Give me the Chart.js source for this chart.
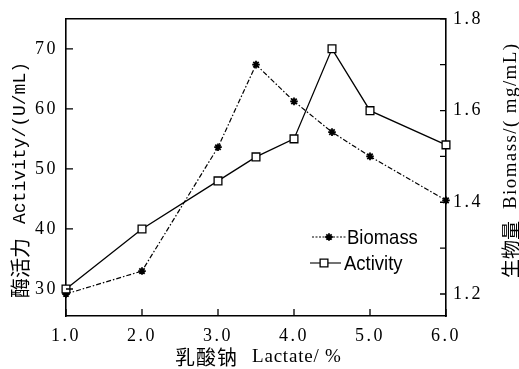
<!DOCTYPE html>
<html>
<head>
<meta charset="utf-8">
<script src="https://cdn.jsdelivr.net/npm/chart.js@4"></script>
<style>
  html, body { margin: 0; padding: 0; background: #fff; }
</style>
</head>
<body>
<canvas id="grafica" width="519" height="369"></canvas>
<script>
// Datos
const lactato = [1.0, 2.0, 3.0, 3.5, 4.0, 4.5, 5.0, 6.0];
const actividad = [30, 40, 48, 52, 55, 70, 59.7, 54];
const biomasa = [1.2, 1.25, 1.52, 1.70, 1.62, 1.553, 1.50, 1.404];
const ticksX = [1, 2, 3, 4, 5, 6];
const ticksIzq = [30, 40, 50, 60, 70];
const ticksDer = [1.2, 1.4, 1.6, 1.8];
const ticksDerMenores = [1.3, 1.5, 1.7];

const negro = "#000";
const fuenteTicks = { family: '"Liberation Serif", serif', size: 18 };

function escribir(ctx, partes, x0, y0, ang) {
  ctx.save();
  ctx.translate(x0, y0);
  ctx.rotate(ang);
  ctx.fillStyle = negro;
  ctx.textBaseline = "middle";
  ctx.textAlign = "left";
  let x = 0;
  for (const p of partes) {
    ctx.font = p.font;
    ctx.letterSpacing = p.ls || "0px";
    x += p.gap || 0;
    ctx.fillText(p.t, x, 0);
    x += ctx.measureText(p.t).width;
  }
  ctx.restore();
}

const marco = {
  id: "marco",
  beforeDraw(chart) {
    chart.ctx.letterSpacing = "2.5px";
  },
  afterDraw(chart) {
    const ctx = chart.ctx;
    const a = chart.chartArea;
    const sx = chart.scales.x, sy = chart.scales.y, sy1 = chart.scales.y1;
    ctx.save();
    ctx.letterSpacing = "0px";
    ctx.strokeStyle = negro;
    ctx.lineWidth = 1.6;
    ctx.beginPath();
    ctx.moveTo(a.left, a.top);
    ctx.lineTo(a.right, a.top);
    ctx.stroke();
    ctx.lineWidth = 1.3;
    ctx.beginPath();
    ticksX.forEach(v => {
      const px = sx.getPixelForValue(v);
      ctx.moveTo(px, a.bottom);
      ctx.lineTo(px, a.bottom - 7);
    });
    ticksIzq.forEach(v => {
      const py = sy.getPixelForValue(v);
      ctx.moveTo(a.left, py);
      ctx.lineTo(a.left + 7, py);
    });
    ticksDer.concat(ticksDerMenores).forEach(v => {
      const py = sy1.getPixelForValue(v);
      ctx.moveTo(a.right, py);
      ctx.lineTo(a.right - 6, py);
    });
    ctx.stroke();

    // leyenda
    const ds = chart.data.datasets;
    const filas = [
      { d: ds[1], y: 237, x1: 312, x2: 346, xm: 329, xt: 347, dash: [2, 1.5] },
      { d: ds[0], y: 263, x1: 310, x2: 341, xm: 324, xt: 344, dash: [] }
    ];
    filas.forEach(f => {
      ctx.save();
      ctx.lineWidth = 1.1;
      ctx.setLineDash(f.dash);
      ctx.beginPath();
      ctx.moveTo(f.x1, f.y);
      ctx.lineTo(f.x2, f.y);
      ctx.stroke();
      ctx.setLineDash([]);
      ctx.fillStyle = "#fff";
      ctx.strokeStyle = negro;
      ctx.lineWidth = f.d.pointBorderWidth;
      Chart.helpers.drawPoint(ctx, {
        pointStyle: f.d.pointStyle,
        radius: f.d.pointRadius,
        borderWidth: f.d.pointBorderWidth,
        rotation: 0
      }, f.xm, f.y);
      ctx.translate(f.xt, f.y);
      ctx.scale(0.88, 1);
      ctx.fillStyle = negro;
      ctx.font = '21px "Liberation Sans", Arial, sans-serif';
      ctx.textBaseline = "middle";
      ctx.textAlign = "left";
      ctx.fillText(f.d.label, 0, 1);
      ctx.restore();
    });
    ctx.restore();

    const cjk = '"Noto Sans CJK SC", sans-serif';
    escribir(ctx, [
      { t: "酶活力", font: "20px " + cjk },
      { t: "Activity/(U/mL)", font: '18px "Liberation Mono", monospace', gap: 14 }
    ], 20, 298, -Math.PI / 2);
    escribir(ctx, [
      { t: "生物量", font: "19px " + cjk },
      { t: "Biomass/( mg/mL)", font: '19px "Liberation Serif", serif', ls: "1.4px", gap: 12 }
    ], 511, 278, -Math.PI / 2);
    escribir(ctx, [
      { t: "乳酸钠", font: "20px " + cjk, ls: "1px" },
      { t: "Lactate/ %", font: '19px "Liberation Serif", serif', ls: "0.8px", gap: 14 }
    ], 175, 357, 0);
  }
};

const ctx = document.getElementById("grafica").getContext("2d");
const grafica = new Chart(ctx, {
  type: "line",
  data: {
    datasets: [
      {
        label: "Activity",
        data: lactato.map((x, i) => ({ x: x, y: actividad[i] })),
        yAxisID: "y",
        borderColor: negro,
        borderWidth: 1.3,
        pointStyle: "rect",
        pointRadius: 5.5,
        pointBackgroundColor: "#fff",
        pointBorderColor: negro,
        pointBorderWidth: 1.3,
        clip: false,
        tension: 0
      },
      {
        label: "Biomass",
        data: lactato.map((x, i) => ({ x: x, y: biomasa[i] })),
        yAxisID: "y1",
        borderColor: negro,
        borderWidth: 1.2,
        borderDash: [5, 2, 1.5, 2],
        pointStyle: "star",
        pointRadius: 3.8,
        pointBorderColor: negro,
        pointBorderWidth: 1.8,
        clip: false,
        tension: 0
      }
    ]
  },
  options: {
    responsive: false,
    animation: false,
    layout: { padding: { top: 16, left: 0, right: 0, bottom: 0 } },
    plugins: { legend: { display: false }, tooltip: { enabled: false } },
    scales: {
      x: {
        type: "linear",
        min: 1,
        max: 6,
        afterBuildTicks: s => { s.ticks = ticksX.map(v => ({ value: v })); },
        afterFit: s => { s.height = 53; },
        grid: { display: false, drawTicks: false },
        border: { color: negro, width: 1.6 },
        ticks: { padding: 9, font: fuenteTicks, color: negro, maxRotation: 0, autoSkip: false, callback: v => v.toFixed(1) }
      },
      y: {
        position: "left",
        min: 25.5,
        max: 75,
        afterBuildTicks: s => { s.ticks = ticksIzq.map(v => ({ value: v })); },
        afterFit: s => { s.width = 66; },
        grid: { display: false, drawTicks: false },
        border: { color: negro, width: 1.6 },
        ticks: { padding: 8, font: fuenteTicks, color: negro, callback: v => String(v) }
      },
      y1: {
        position: "right",
        min: 1.152,
        max: 1.8,
        afterBuildTicks: s => { s.ticks = ticksDer.map(v => ({ value: v })); },
        afterFit: s => { s.width = 73; },
        grid: { display: false, drawTicks: false },
        border: { color: negro, width: 1.6 },
        ticks: { padding: 7, font: fuenteTicks, color: negro, callback: v => v.toFixed(1) }
      }
    }
  },
  plugins: [marco]
});
</script>
</body>
</html>
